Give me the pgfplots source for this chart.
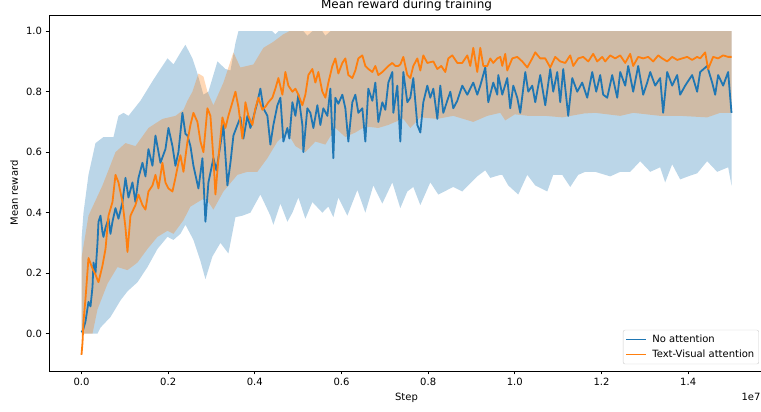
\documentclass[border=0pt]{standalone}
\usepackage{fontspec}
\setmainfont{DejaVu Sans}
\usepackage{pgfplots}
\usepackage{pgfplotstable}
\pgfplotsset{compat=1.18}
\usepgfplotslibrary{fillbetween}
\definecolor{c0}{HTML}{1F77B4}
\definecolor{c1}{HTML}{FF7F0E}
\definecolor{legedge}{RGB}{204,204,204}

% Blue band (No attention): upper / lower
\pgfplotstableread{
x y
0.0000 0.31
0.0046 0.40
0.0161 0.525
0.0323 0.63
0.0507 0.65
0.0738 0.65
0.0853 0.72
0.0969 0.73
0.1084 0.72
0.1361 0.77
0.1661 0.84
0.1984 0.91
0.2122 0.89
0.2330 0.94
0.2399 0.955
0.2560 0.91
0.2675 0.86
0.2814 0.79
0.2929 0.80
0.3137 0.90
0.3321 0.875
0.3437 0.87
0.3552 0.96
0.3621 1.0
0.4400 1.0
0.4474 0.99
0.4544 1.0
0.5120 1.0
0.5212 0.985
0.5328 1.0
0.5558 1.0
0.5628 0.985
0.5743 1.0
1.5000 1.0
}\bupper
\pgfplotstableread{
x y
0.0000 0.0
0.0369 0.0
0.0438 0.02
0.0669 0.055
0.0900 0.11
0.1061 0.14
0.1292 0.17
0.1522 0.22
0.1753 0.28
0.1984 0.32
0.2122 0.31
0.2283 0.33
0.2399 0.36
0.2583 0.31
0.2745 0.24
0.2860 0.18
0.3021 0.255
0.3206 0.30
0.3390 0.265
0.3552 0.385
0.3713 0.39
0.3898 0.40
0.4128 0.46
0.4359 0.39
0.4428 0.36
0.4590 0.43
0.4751 0.37
0.4867 0.40
0.5005 0.45
0.5166 0.38
0.5328 0.435
0.5558 0.40
0.5697 0.42
0.5812 0.385
0.5927 0.45
0.6135 0.39
0.6366 0.475
0.6550 0.40
0.6735 0.49
0.6942 0.43
0.7173 0.50
0.7357 0.415
0.7519 0.47
0.7657 0.485
0.7819 0.425
0.8049 0.50
0.8234 0.46
0.8580 0.485
0.8787 0.47
0.9133 0.52
0.9318 0.54
0.9433 0.515
0.9664 0.525
0.9710 0.525
0.9848 0.49
1.0079 0.46
1.0287 0.525
1.0471 0.49
1.0748 0.47
1.0886 0.525
1.1094 0.525
1.1278 0.485
1.1463 0.525
1.1624 0.535
1.1855 0.535
1.1970 0.53
1.2201 0.52
1.2432 0.535
1.2662 0.535
1.2893 0.57
1.3124 0.535
1.3354 0.55
1.3470 0.50
1.3631 0.56
1.3815 0.51
1.4000 0.52
1.4208 0.53
1.4438 0.57
1.4669 0.535
1.4923 0.55
1.5000 0.49
}\blower
% Orange band (Text-Visual attention): upper / lower
\pgfplotstableread{
x y
0.0000 0.25
0.0161 0.39
0.0484 0.49
0.0784 0.60
0.1015 0.63
0.1245 0.62
0.1545 0.68
0.1868 0.71
0.2168 0.72
0.2353 0.74
0.2445 0.77
0.2560 0.80
0.2698 0.86
0.2814 0.85
0.2906 0.80
0.3044 0.755
0.3275 0.83
0.3506 0.93
0.3667 0.88
0.3967 0.89
0.4198 0.945
0.4428 0.965
0.4659 0.99
0.4797 1.0
1.5000 1.0
}\oupper
\pgfplotstableread{
x y
0.0000 0.0
0.0254 0.0
0.0369 0.08
0.0600 0.165
0.0830 0.22
0.1061 0.21
0.1292 0.235
0.1522 0.28
0.1753 0.32
0.1984 0.34
0.2122 0.33
0.2353 0.375
0.2514 0.42
0.2745 0.44
0.2860 0.45
0.3044 0.41
0.3275 0.47
0.3598 0.525
0.3829 0.535
0.4059 0.535
0.4290 0.58
0.4521 0.635
0.4751 0.665
0.4936 0.62
0.5166 0.60
0.5397 0.635
0.5628 0.625
0.5858 0.68
0.6089 0.65
0.6320 0.665
0.6550 0.685
0.6850 0.68
0.7081 0.69
0.7242 0.70
0.7427 0.71
0.7588 0.68
0.7819 0.715
0.8211 0.71
0.8580 0.72
0.9041 0.70
0.9364 0.72
0.9664 0.73
0.9779 0.705
1.0000 0.725
1.0310 0.72
1.0702 0.72
1.1100 0.715
1.1600 0.728
1.1855 0.73
1.2432 0.72
1.2732 0.73
1.3354 0.72
1.3815 0.72
1.4438 0.715
1.4738 0.73
1.5000 0.73
}\olower
% Mean reward, No attention
\pgfplotstableread{
x y
0.0000 0.01
0.0023 0.005
0.0092 0.04
0.0161 0.105
0.0208 0.09
0.0254 0.155
0.0277 0.235
0.0323 0.20
0.0369 0.30
0.0392 0.37
0.0438 0.39
0.0484 0.335
0.0507 0.32
0.0554 0.35
0.0623 0.38
0.0669 0.33
0.0715 0.37
0.0784 0.415
0.0853 0.38
0.0946 0.435
0.1015 0.515
0.1084 0.45
0.1176 0.50
0.1245 0.435
0.1315 0.515
0.1407 0.565
0.1476 0.52
0.1545 0.61
0.1638 0.555
0.1707 0.655
0.1822 0.565
0.1937 0.61
0.2007 0.68
0.2099 0.62
0.2168 0.555
0.2237 0.60
0.2329 0.73
0.2399 0.66
0.2445 0.655
0.2514 0.62
0.2583 0.555
0.2698 0.48
0.2791 0.58
0.2860 0.37
0.2929 0.50
0.3044 0.58
0.3114 0.54
0.3206 0.625
0.3275 0.69
0.3367 0.49
0.3437 0.565
0.3506 0.655
0.3598 0.69
0.3667 0.715
0.3736 0.645
0.3829 0.72
0.3898 0.68
0.3967 0.715
0.4059 0.765
0.4128 0.81
0.4198 0.745
0.4290 0.72
0.4359 0.625
0.4428 0.69
0.4521 0.755
0.4590 0.78
0.4659 0.635
0.4751 0.68
0.4797 0.645
0.4867 0.765
0.4936 0.72
0.5005 0.79
0.5097 0.69
0.5120 0.60
0.5212 0.745
0.5282 0.73
0.5351 0.68
0.5443 0.755
0.5512 0.69
0.5581 0.745
0.5674 0.72
0.5743 0.81
0.5812 0.58
0.5858 0.78
0.5927 0.76
0.6020 0.79
0.6089 0.745
0.6158 0.635
0.6250 0.765
0.6320 0.79
0.6389 0.73
0.6481 0.745
0.6550 0.635
0.6619 0.81
0.6712 0.77
0.6781 0.83
0.6850 0.70
0.6942 0.765
0.7011 0.74
0.7081 0.83
0.7173 0.865
0.7196 0.73
0.7288 0.82
0.7357 0.635
0.7427 0.865
0.7519 0.765
0.7588 0.78
0.7657 0.845
0.7750 0.69
0.7819 0.665
0.7888 0.765
0.7980 0.82
0.8049 0.78
0.8119 0.81
0.8211 0.71
0.8280 0.82
0.8349 0.73
0.8441 0.77
0.8511 0.80
0.8580 0.745
0.8672 0.77
0.8787 0.82
0.8903 0.79
0.9041 0.83
0.9133 0.79
0.9203 0.82
0.9318 0.88
0.9387 0.765
0.9502 0.83
0.9595 0.79
0.9618 0.855
0.9710 0.79
0.9825 0.845
0.9894 0.745
0.9964 0.82
1.0056 0.78
1.0125 0.73
1.0241 0.865
1.0310 0.80
1.0402 0.82
1.0471 0.765
1.0586 0.855
1.0702 0.755
1.0817 0.875
1.0886 0.80
1.0979 0.865
1.1048 0.765
1.1117 0.875
1.1232 0.72
1.1325 0.845
1.1440 0.80
1.1555 0.83
1.1671 0.78
1.1786 0.865
1.1878 0.80
1.1970 0.855
1.2039 0.79
1.2132 0.78
1.2247 0.855
1.2363 0.78
1.2432 0.865
1.2547 0.82
1.2616 0.885
1.2731 0.80
1.2847 0.885
1.2962 0.79
1.3055 0.83
1.3124 0.865
1.3239 0.82
1.3354 0.845
1.3423 0.73
1.3516 0.865
1.3631 0.82
1.3746 0.855
1.3815 0.79
1.3931 0.82
1.4092 0.855
1.4207 0.80
1.4277 0.865
1.4438 0.885
1.4554 0.83
1.4623 0.79
1.4692 0.855
1.4807 0.82
1.4922 0.865
1.5000 0.73
}\bmean
% Mean reward, Text-Visual attention
\pgfplotstableread{
x y
0.0000 -0.07
0.0023 -0.03
0.0046 0.04
0.0092 0.115
0.0161 0.25
0.0254 0.215
0.0323 0.195
0.0392 0.17
0.0484 0.225
0.0554 0.28
0.0623 0.39
0.0715 0.435
0.0784 0.525
0.0853 0.50
0.0946 0.435
0.1015 0.35
0.1061 0.27
0.1130 0.39
0.1245 0.425
0.1315 0.46
0.1407 0.425
0.1476 0.41
0.1545 0.47
0.1638 0.49
0.1707 0.525
0.1776 0.48
0.1868 0.565
0.1937 0.50
0.2007 0.48
0.2099 0.47
0.2168 0.515
0.2237 0.565
0.2283 0.59
0.2353 0.535
0.2445 0.635
0.2514 0.69
0.2583 0.73
0.2675 0.70
0.2745 0.635
0.2814 0.60
0.2906 0.745
0.2975 0.72
0.3044 0.58
0.3091 0.46
0.3160 0.58
0.3252 0.715
0.3321 0.68
0.3390 0.72
0.3483 0.765
0.3552 0.80
0.3621 0.75
0.3713 0.645
0.3783 0.765
0.3852 0.72
0.3944 0.69
0.4013 0.745
0.4082 0.78
0.4175 0.74
0.4244 0.75
0.4313 0.765
0.4405 0.78
0.4474 0.81
0.4544 0.845
0.4636 0.79
0.4705 0.865
0.4774 0.82
0.4867 0.80
0.4936 0.81
0.5005 0.79
0.5097 0.755
0.5166 0.79
0.5236 0.855
0.5328 0.875
0.5397 0.83
0.5466 0.865
0.5558 0.80
0.5628 0.78
0.5697 0.83
0.5789 0.885
0.5858 0.91
0.5927 0.86
0.6020 0.895
0.6089 0.91
0.6158 0.855
0.6250 0.845
0.6320 0.87
0.6389 0.91
0.6481 0.92
0.6550 0.885
0.6619 0.875
0.6712 0.865
0.6781 0.885
0.6850 0.855
0.6942 0.865
0.7011 0.875
0.7081 0.885
0.7173 0.895
0.7242 0.885
0.7311 0.885
0.7357 0.89
0.7427 0.915
0.7519 0.855
0.7588 0.845
0.7657 0.885
0.7750 0.91
0.7819 0.87
0.7888 0.92
0.7980 0.895
0.8119 0.90
0.8211 0.875
0.8303 0.885
0.8395 0.865
0.8465 0.91
0.8557 0.92
0.8672 0.895
0.8787 0.895
0.8903 0.92
0.8972 0.885
0.9041 0.945
0.9133 0.865
0.9203 0.945
0.9272 0.885
0.9364 0.885
0.9433 0.91
0.9502 0.895
0.9595 0.91
0.9664 0.915
0.9710 0.885
0.9779 0.925
0.9825 0.87
0.9941 0.91
1.0056 0.915
1.0171 0.90
1.0287 0.88
1.0402 0.91
1.0471 0.93
1.0586 0.91
1.0702 0.91
1.0817 0.88
1.0932 0.915
1.1048 0.90
1.1163 0.895
1.1278 0.92
1.1348 0.885
1.1463 0.91
1.1578 0.915
1.1694 0.90
1.1809 0.925
1.1901 0.90
1.2016 0.915
1.2085 0.90
1.2201 0.92
1.2316 0.91
1.2432 0.92
1.2547 0.895
1.2662 0.925
1.2731 0.885
1.2847 0.915
1.2962 0.91
1.3078 0.915
1.3193 0.90
1.3308 0.92
1.3400 0.91
1.3516 0.90
1.3631 0.915
1.3746 0.905
1.3861 0.91
1.3977 0.915
1.4092 0.905
1.4207 0.915
1.4277 0.91
1.4392 0.93
1.4461 0.875
1.4576 0.915
1.4692 0.91
1.4807 0.92
1.4922 0.915
1.5000 0.915
}\omean

\begin{document}
\begin{tikzpicture}
\begin{axis}[
  at={(49pt,41pt)}, anchor=south west,
  scale only axis, width=715pt, height=356pt,
  xmin=-0.075, xmax=1.575, ymin=-0.1235, ymax=1.0535,
  xtick={0,0.2,0.4,0.6,0.8,1.0,1.2,1.4},
  ytick={0,0.2,0.4,0.6,0.8,1.0},
  /pgf/number format/assume math mode=true,
  xticklabel style={/pgf/number format/.cd,fixed,fixed zerofill,precision=1},
  yticklabel style={/pgf/number format/.cd,fixed,fixed zerofill,precision=1},
  scaled x ticks=false,
  tick align=outside, major tick length=3.5pt,
  tick style={black, line width=0.8pt},
  xtick pos=left, ytick pos=left,
  axis line style={line width=0.8pt, black},
  ticklabel style={font=\fontsize{10}{12}\selectfont},
  title={Mean reward during training},
  title style={font=\fontsize{12}{14}\selectfont, at={(axis description cs:0.5,1)}, anchor=base, yshift=0pt},
  xlabel={Step},
  xlabel style={font=\fontsize{10}{12}\selectfont, at={(axis description cs:0.5,-0.0829)}, anchor=base},
  ylabel={Mean reward},
  ylabel style={font=\fontsize{10}{12}\selectfont, at={(axis description cs:-0.0434,0.5)}, anchor=base, rotate=0},
  legend cell align=left,
  legend image code/.code={\draw[#1, line width=1.8pt] (0pt,0pt) -- (20pt,0pt);},
  legend style={at={(0.993,0.019)}, anchor=south east, draw=legedge, rounded corners=2pt,
    fill=white, fill opacity=0.8, text opacity=1, font=\fontsize{10}{12}\selectfont,
    inner sep=2pt, column sep=3pt, row sep=0pt,
    nodes={inner sep=2.5pt, text height=7.5pt, text depth=2.5pt}},
]
\addplot[draw=none, name path=bu, forget plot] table[x=x,y=y] {\bupper};
\addplot[draw=none, name path=bl, forget plot] table[x=x,y=y] {\blower};
\addplot[fill=c0, fill opacity=0.3, draw=none, forget plot] fill between[of=bu and bl];
\addplot[draw=none, name path=ou, forget plot] table[x=x,y=y] {\oupper};
\addplot[draw=none, name path=ol, forget plot] table[x=x,y=y] {\olower};
\addplot[fill=c1, fill opacity=0.3, draw=none, forget plot] fill between[of=ou and ol];
\addplot[c0, line width=1.8pt, line join=round] table[x=x,y=y] {\bmean};
\addlegendentry{No attention}
\addplot[c1, line width=1.8pt, line join=round] table[x=x,y=y] {\omean};
\addlegendentry{Text-Visual attention}
\end{axis}
\node[anchor=base east, font=\fontsize{10}{12}\selectfont] at (764pt,11.7pt) {1e7};
\pgfresetboundingbox
\path[use as bounding box] (0,0) rectangle (761pt,412pt);
\end{tikzpicture}
\end{document}
